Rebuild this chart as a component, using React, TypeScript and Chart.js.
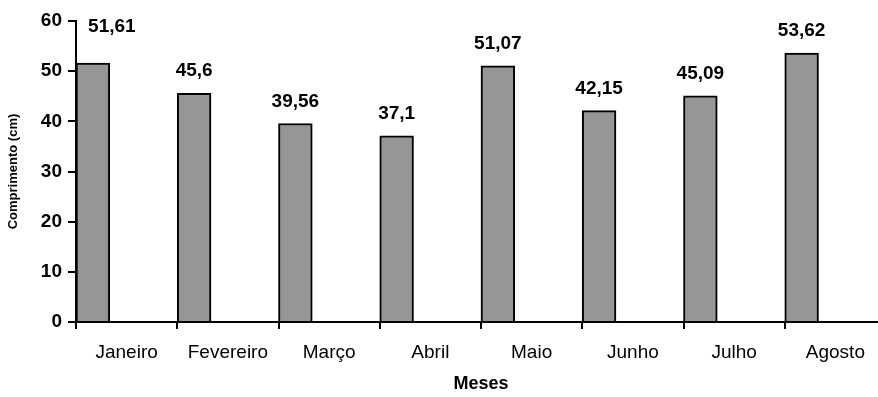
import React, { useEffect, useRef } from "react";
import { Chart, registerables } from "chart.js";

Chart.register(...registerables);

const months = ["Janeiro", "Fevereiro", "Março", "Abril", "Maio", "Junho", "Julho", "Agosto"];
const lengths = [51.61, 45.6, 39.56, 37.1, 51.07, 42.15, 45.09, 53.62];
const lengthLabels = ["51,61", "45,6", "39,56", "37,1", "51,07", "42,15", "45,09", "53,62"];
const emptySeries = [null, null, null, null, null, null, null, null];
const yTicks = [0, 10, 20, 30, 40, 50, 60];

const FONT = "'Liberation Sans', Arial, sans-serif";

const valueLabels = {
  id: "valueLabels",
  afterDatasetsDraw(chart: any) {
    const ctx = chart.ctx;
    const meta = chart.getDatasetMeta(0);
    ctx.save();
    ctx.font = `bold 19px ${FONT}`;
    ctx.fillStyle = "#000";
    ctx.textAlign = "center";
    ctx.textBaseline = "middle";
    meta.data.forEach((bar: any, i: number) => {
      // first label was moved manually in the original (away from the axis)
      const dx = i === 0 ? 19 : 0;
      const dy = i === 0 ? -14 : 0;
      ctx.fillText(lengthLabels[i], bar.x + dx, bar.y - 22 + dy);
    });
    ctx.restore();
  },
};

export default function App() {
  const ref = useRef<HTMLCanvasElement>(null);
  useEffect(() => {
    if (!ref.current) return;
    const chart = new Chart(ref.current, {
      type: "bar",
      data: {
        labels: months,
        datasets: [
          {
            data: lengths,
            backgroundColor: "#969696",
            borderColor: "#000",
            borderWidth: 2,
            categoryPercentage: 1,
            barPercentage: 1,
          },
          { data: emptySeries as any, categoryPercentage: 1, barPercentage: 1 },
          { data: emptySeries as any, categoryPercentage: 1, barPercentage: 1 },
        ],
      },
      options: {
        responsive: false,
        animation: false,
        devicePixelRatio: 1,
        layout: { padding: { top: 21, right: 4, left: 0, bottom: 0 } },
        plugins: { legend: { display: false }, tooltip: { enabled: false } },
        scales: {
          x: {
            offset: true,
            grid: {
              offset: true,
              drawOnChartArea: false,
              color: "#000",
              lineWidth: 2,
              tickLength: 7,
            },
            border: { color: "#000", width: 2 },
            ticks: {
              color: "#000",
              font: { family: FONT, size: 19 },
              padding: 12,
              maxRotation: 0,
              autoSkip: false,
            },
            title: {
              display: true,
              text: "Meses",
              color: "#000",
              font: { family: FONT, size: 18, weight: "bold" },
              padding: { top: 0, bottom: 2 },
            },
            afterFit(scale: any) {
              scale.height = 75;
            },
          },
          y: {
            min: 0,
            max: 60,
            afterBuildTicks(scale: any) {
              scale.ticks = yTicks.map((v) => ({ value: v }));
            },
            grid: {
              drawOnChartArea: false,
              color: "#000",
              lineWidth: 2,
              tickLength: 8,
            },
            border: { color: "#000", width: 2 },
            ticks: {
              color: "#000",
              font: { family: FONT, size: 19, weight: "bold" },
              padding: 6,
            },
            title: {
              display: true,
              text: "Comprimento (cm)",
              color: "#000",
              font: { family: FONT, size: 13, weight: "bold" },
              padding: { top: 6, bottom: 0 },
            },
            afterFit(scale: any) {
              scale.width = 76;
            },
          },
        },
      },
      plugins: [valueLabels],
    });
    return () => chart.destroy();
  }, []);
  return (
    <div
      style={{
        position: "fixed",
        left: 0,
        top: 0,
        width: 878,
        height: 397,
        overflow: "hidden",
        background: "#fff",
      }}
    >
      <canvas ref={ref} width={890} height={397} style={{ display: "block" }} />
    </div>
  );
}
